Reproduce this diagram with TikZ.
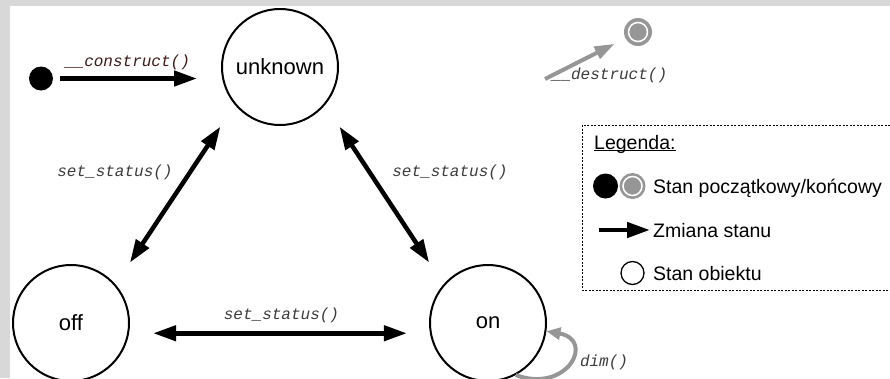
\documentclass[tikz,border=0pt]{standalone}
\usepackage{fontspec}
\setmainfont{Liberation Sans}
\newfontfamily\codefont{Liberation Mono}
\usetikzlibrary{arrows.meta}
\definecolor{framegray}{RGB}{216,216,216}
\definecolor{endgray}{RGB}{150,150,150}
\definecolor{labelgray}{RGB}{60,60,60}
\definecolor{ctorred}{RGB}{64,24,24}

\begin{document}
\begin{tikzpicture}[x=1pt,y=1pt,
  state/.style={circle, draw=black, line width=2pt, minimum size=116pt, inner sep=0pt,
    font=\fontsize{22}{26}\selectfont},
  initstate/.style={circle, fill=black, minimum size=24pt, inner sep=0pt},
  finalstate/.style={circle, fill=endgray, minimum size=28pt, inner sep=0pt,
    path picture={\draw[white,line width=1.5pt] (path picture bounding box.center) circle[radius=9.5pt];}},
  trans/.style={line width=4.5pt, -{Triangle[length=23pt,width=15pt]}},
  bitrans/.style={line width=4.5pt, {Triangle[length=23pt,width=15pt]}-{Triangle[length=23pt,width=15pt]}},
  graytrans/.style={endgray, line width=4pt, -{Triangle[length=20pt,width=13pt]}},
  code/.style={font=\codefont\itshape\fontsize{16}{18}\selectfont, text=labelgray, inner sep=0pt},
  legtext/.style={font=\fontsize{19.5}{23}\selectfont, anchor=base west, inner sep=0pt},
  legendbox/.style={line width=1pt, dash pattern=on 2pt off 1.5pt},
]
% canvas with the grey frame on top and left
\useasboundingbox (0,0) rectangle (890,-378);
\clip (0,0) rectangle (890,-378);
\fill[framegray] (0,0) rectangle (890,-378);
\fill[white] (10,-6) rectangle (890,-378);

% states
\node[state] (unknown) at (280,-67) {unknown};
\node[state] (off) at (71,-323) {off};
\node[state] (on) at (488,-323) {on};
\node[initstate] (init) at (41,-78.5) {};
\node[finalstate] (final) at (638,-32) {};
\coordinate (dstart) at (545,-79);

% transitions
\draw[trans, shorten <=7pt, shorten >=24pt] (init.east) -- (init.east -| unknown.west);
\draw[bitrans, shorten <=26pt, shorten >=26pt] (unknown.220) -- (off.41);
\draw[bitrans, shorten <=26pt, shorten >=26pt] (unknown.-40) -- (on.139);
\draw[bitrans, shorten <=24pt, shorten >=23pt] (off.-10) -- (on.190);
\draw[graytrans, shorten >=12pt] (dstart) -- (final);
\draw[endgray, line width=4pt, -{Triangle[length=14pt,width=12pt]}]
  (on.-62) .. controls +(-20:55) and +(-10:50) .. (on.-8);

% transition labels
\node[code, text=ctorred] (lctor) at (127.5,-62) {\_\_construct()};
\node[code] (ldtor) at (609.5,-75) {\_\_destruct()};
\node[code] (ls1) at (115,-172) {set\_status()};
\node[code] (ls2) at (450,-172) {set\_status()};
\node[code] (ls3) at (281.5,-315) {set\_status()};
\node[code] (ldim) at (604,-362) {dim()};

% legend
\draw[legendbox] (582,-125) rectangle (900,-290);
\node[legtext] (legtitle) at (594,-149) {Legenda:};
\draw[line width=1pt] ([yshift=-1.8pt]legtitle.base west) -- ([yshift=-1.8pt]legtitle.base east);
\node[initstate, minimum size=25pt] (lginit) at (605.5,-186) {};
\node[finalstate, minimum size=26pt] (lgfinal) at (632.5,-186) {};
\node[legtext] (lgt1) at (653,-193) {Stan początkowy/końcowy};
\coordinate (lga) at (599,-230);
\coordinate (lgb) at (650,-230);
\draw[trans] (lga) -- (lgb);
\node[legtext] (lgt2) at (653,-237.5) {Zmiana stanu};
\node[circle, draw=black, line width=1.3pt, minimum size=23pt, inner sep=0pt] (lgstate) at (632.5,-273) {};
\node[legtext] (lgt3) at (653,-280) {Stan obiektu};
\end{tikzpicture}
\end{document}
